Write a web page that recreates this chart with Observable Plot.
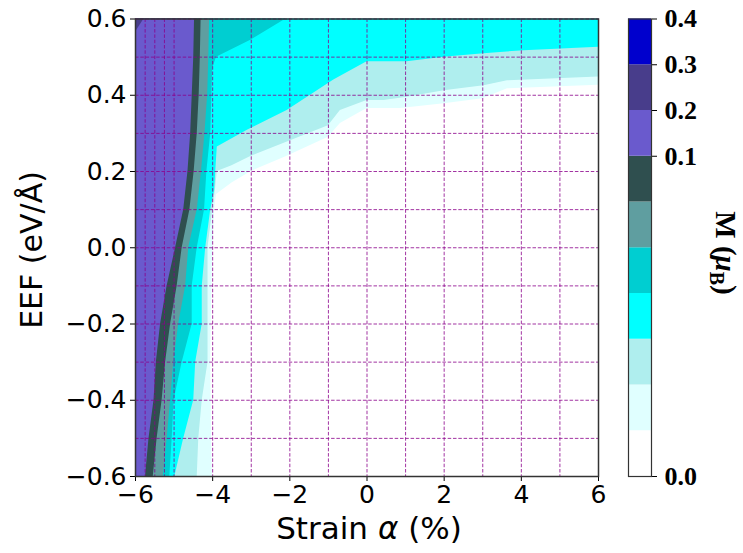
<!DOCTYPE html>
<html><head><meta charset="utf-8">
<script src="https://cdn.jsdelivr.net/npm/d3@7"></script>
<script src="https://cdn.jsdelivr.net/npm/@observablehq/plot@0.6"></script>
<style>
body{margin:0;background:#fff;}
#wrap{position:relative;width:743px;height:553px;overflow:hidden;}
#wrap svg{position:absolute;left:0;top:0;}
</style></head><body><div id="wrap"></div>
<script>
const W = 743, H = 553;
// data grid of the calculation (also drawn as the dashed grid)
const strainGrid = [-6, -5.75, -5.5, -5.25, -5, -4, -3, -2, -1, 0, 1, 2, 3, 4, 5, 6];
const eefGrid = [-0.6, -0.5, -0.4, -0.3, -0.2, -0.1, 0, 0.1, 0.2, 0.3, 0.4, 0.5, 0.6];
const xTicks = [-6, -4, -2, 0, 2, 4, 6];
const yTicks = [-0.6, -0.4, -0.2, 0, 0.2, 0.4, 0.6];
// contour levels of M (muB) and their fill colours
const levels = [0, 0.005, 0.01, 0.02, 0.03, 0.05, 0.07, 0.1, 0.2, 0.3, 0.4];
const levelColors = ["#ffffff", "#e0ffff", "#afeeee", "#00ffff", "#00ced1", "#5f9ea0", "#2f4f4f", "#6a5acd", "#483d8b", "#0000cd"];
const cbarTicks = [0, 0.1, 0.2, 0.3, 0.4];
// contour lines: [strain, EEF], from the bottom edge to the top / right edge
const contour1 = [[-4.01,-0.6],[-4.03,-0.5],[-4.04,-0.4],[-4.05,-0.3],[-4.04,-0.2],[-4.02,-0.1],[-4.0,0.0],[-3.95,0.1],[-3.9,0.14],[-3.5,0.17],[-3.0,0.2],[-2.07,0.24],[-1.0,0.29],[-0.69,0.326],[0,0.365],[0.87,0.365],[2.0,0.378],[3.0,0.391],[3.64,0.417],[6,0.426],[6,0.6]];
const contour2 = [[-4.40,-0.6],[-4.36,-0.5],[-4.27,-0.4],[-4.12,-0.3],[-4.12,-0.2],[-4.12,-0.1],[-4.12,0.0],[-4.0,0.1],[-3.93,0.15],[-3.88,0.2],[-3.5,0.215],[-3.0,0.24],[-2.0,0.28],[-1.0,0.32],[-0.69,0.36],[0,0.386],[0.44,0.386],[1.04,0.395],[2.0,0.412],[3.03,0.425],[3.64,0.438],[6,0.448],[6,0.6]];
const contour3 = [[-4.98,-0.6],[-4.75,-0.5],[-4.49,-0.4],[-4.44,-0.3],[-4.27,-0.2],[-4.27,-0.1],[-4.18,0.0],[-4.05,0.1],[-3.95,0.15],[-3.92,0.2],[-3.88,0.264],[-3.1,0.308],[-2.07,0.36],[-0.86,0.44],[0,0.488],[1.04,0.488],[2.0,0.5],[3.03,0.509],[4.07,0.517],[6,0.526],[6,0.6]];
const contour4 = [[-5.11,-0.6],[-5.05,-0.5],[-5.0,-0.4],[-4.79,-0.3],[-4.53,-0.2],[-4.53,-0.1],[-4.40,0.0],[-4.21,0.1],[-4.15,0.2],[-4.05,0.3],[-4.02,0.4],[-4.0,0.47],[-3.9,0.5],[-3.0,0.545],[-2.1,0.6]];
const contour5 = [[-5.28,-0.6],[-5.18,-0.5],[-5.09,-0.4],[-5.01,-0.3],[-4.88,-0.2],[-4.70,-0.1],[-4.62,0.0],[-4.40,0.1],[-4.29,0.2],[-4.2,0.3],[-4.13,0.4],[-4.1,0.5],[-4.08,0.6]];
const contour6 = [[-5.54,-0.6],[-5.44,-0.5],[-5.31,-0.4],[-5.22,-0.3],[-5.09,-0.2],[-4.92,-0.1],[-4.79,0.0],[-4.59,0.1],[-4.48,0.2],[-4.40,0.3],[-4.35,0.4],[-4.32,0.5],[-4.30,0.6]];
const contour7 = [[-5.74,-0.6],[-5.65,-0.5],[-5.52,-0.4],[-5.46,-0.3],[-5.35,-0.2],[-5.18,-0.1],[-4.96,0.0],[-4.75,0.1],[-4.64,0.2],[-4.57,0.3],[-4.53,0.4],[-4.49,0.5],[-4.47,0.6]];
const contour8 = [[-6,0.565],[-5.78,0.6]];

const contours = [contour1, contour2, contour3, contour4, contour5, contour6, contour7, contour8];
// region {M >= level k} lies left of / above contour k
const regionRows = contours.flatMap((c, i) => c.map(([x, y]) => ({level: levels[i + 1], x0: strainGrid[0], x, y})));

const gridStyle = {stroke: "#8b008b", strokeOpacity: 0.8, strokeWidth: 1, strokeDasharray: "3.5,1.8"};
const colorScale = {type: "ordinal", domain: levels.slice(0, levelColors.length), range: levelColors};

const main = Plot.plot({
  width: W, height: H,
  marginLeft: 135, marginRight: 145, marginTop: 18.5, marginBottom: 77,
  style: {fontFamily: "DejaVu Sans", fontSize: "25px", color: "#000", background: "transparent"},
  x: {domain: [-6, 6], ticks: xTicks, tickFormat: d3.format("d"), tickSize: 5, tickPadding: 4, label: null},
  y: {domain: [-0.6, 0.6], ticks: yTicks, tickFormat: d3.format(".1f"), tickSize: 5, tickPadding: 4, label: null},
  color: colorScale,
  marks: [
    Plot.frame({fill: "white"}),
    Plot.areaX(regionRows, {y: "y", x1: "x0", x2: "x", z: "level", fill: "level"}),
    Plot.ruleX(strainGrid, gridStyle),
    Plot.ruleY(eefGrid, gridStyle),
    Plot.frame({stroke: "#333", strokeWidth: 1.5})
  ]
});

const bands = levels.slice(0, levelColors.length).map((l, i) => ({level: l, lo: i, hi: i + 1}));
const cbar = Plot.plot({
  width: W, height: H,
  marginLeft: 628, marginRight: 92, marginTop: 18.5, marginBottom: 77,
  style: {fontFamily: "Liberation Serif", fontWeight: "bold", fontSize: "26px", color: "#000", background: "transparent"},
  x: {domain: [0, 1], axis: null},
  y: {domain: [0, levels.length - 1], axis: "right", ticks: cbarTicks.map(t => levels.indexOf(t)),
      tickFormat: i => levels[i].toFixed(1), tickSize: 5, tickPadding: 8, label: null},
  color: colorScale,
  marks: [
    Plot.rect(bands, {x1: 0, x2: 1, y1: "lo", y2: "hi", fill: "level"}),
    Plot.frame({stroke: "#333", strokeWidth: 1.2})
  ]
});

const wrap = document.getElementById("wrap");
wrap.appendChild(main);
wrap.appendChild(cbar);

const ms = d3.select(main);
ms.append("text").attr("transform", "translate(42,250) rotate(-90)")
  .attr("text-anchor", "middle").attr("font-size", 30).attr("font-family", "DejaVu Sans").attr("fill", "#000")
  .text("EEF (eV/Å)");
const xl = ms.append("text").attr("x", 369).attr("y", 539)
  .attr("text-anchor", "middle").attr("font-size", 31).attr("font-family", "DejaVu Sans").attr("fill", "#000");
xl.append("tspan").text("Strain ");
xl.append("tspan").attr("font-style", "italic").text("α");
xl.append("tspan").text(" (%)");

const cs = d3.select(cbar);
const cl = cs.append("text").attr("transform", "translate(716,253) rotate(90)")
  .attr("text-anchor", "middle").attr("font-size", 29).attr("font-weight", "bold")
  .attr("font-family", "Liberation Serif").attr("fill", "#000");
cl.append("tspan").text("M (");
cl.append("tspan").attr("font-style", "italic").text("μ");
cl.append("tspan").attr("font-size", 20).attr("dy", 6).text("B");
cl.append("tspan").attr("dy", -6).text(")");
</script></body></html>
